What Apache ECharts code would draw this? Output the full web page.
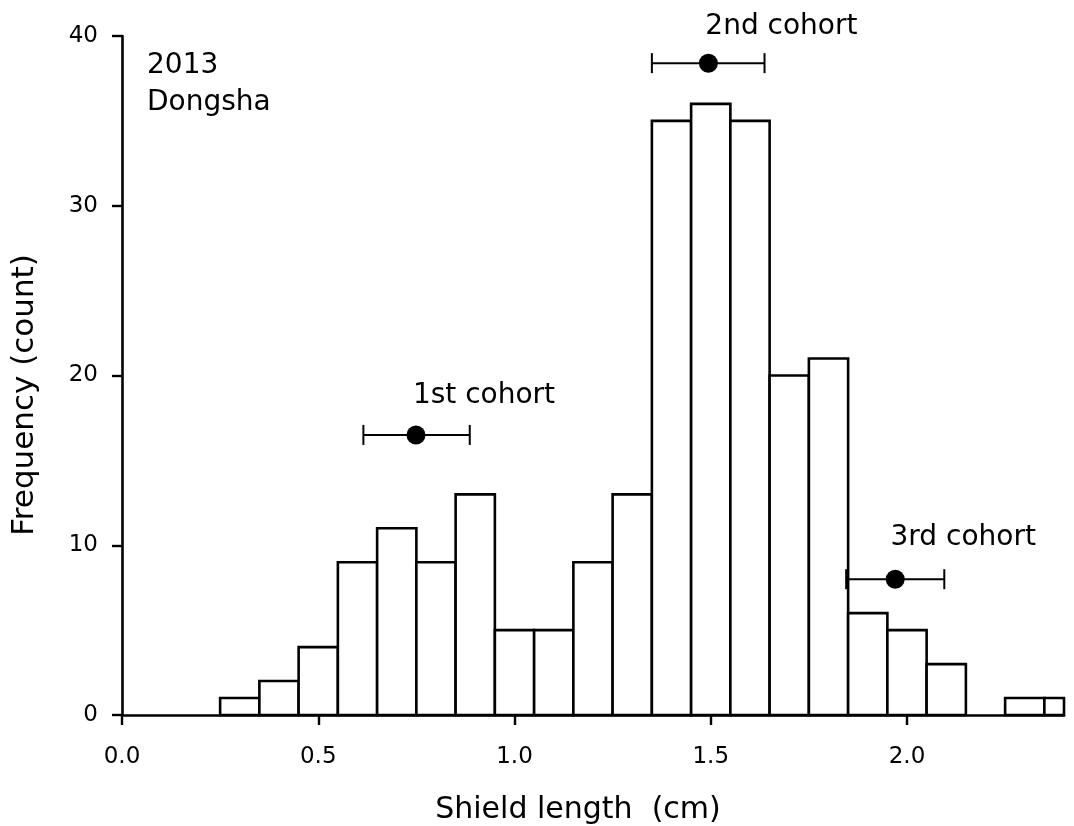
<!DOCTYPE html>
<html>
<head>
<meta charset="utf-8">
<script src="https://cdn.jsdelivr.net/npm/echarts@6/dist/echarts.min.js"></script>
<style>
html,body{margin:0;padding:0;background:#fff;}
#chart{width:1074px;height:826px;}
</style>
</head>
<body>
<div id="chart"></div>
<script>
// Histogram bins (centres, width 0.1 cm) and counts
const binCenters = [0.3, 0.4, 0.5, 0.6, 0.7, 0.8, 0.9, 1.0, 1.1, 1.2, 1.3, 1.4, 1.5, 1.6, 1.7, 1.8, 1.9, 2.0, 2.1, 2.2, 2.3, 2.4];
const counts     = [1,   2,   4,   9,   11,  9,   13,  5,   5,   9,   13,  35,  36,  35,  20,  21,  6,   5,   3,   0,   1,   1];
const binWidth = 0.1;

// Cohort means (x), plotted height (y), and error-bar limits
const cohortNames = ['1st cohort', '2nd cohort', '3rd cohort'];
const cohortMean  = [0.749, 1.494, 1.970];
const cohortY     = [16.5, 38.4, 8.0];
const cohortLow   = [0.615, 1.350, 1.845];
const cohortHigh  = [0.886, 1.637, 2.095];

const xTicks = [0, 0.5, 1.0, 1.5, 2.0];
const yTicks = [0, 10, 20, 30, 40];

const FONT = 'DejaVu Sans';
const labelOffsets = [[68, -39], [73, -36], [68, -41]];

const chart = echarts.init(document.getElementById('chart'), null, {renderer: 'canvas'});

const barData = binCenters.map((c, i) => [c, counts[i]]);
const errData = cohortMean.map((m, i) => [cohortLow[i], cohortHigh[i], cohortY[i]]);
const pointData = cohortMean.map((m, i) => ({
  value: [m, cohortY[i]],
  name: cohortNames[i],
  label: {offset: labelOffsets[i]}
}));

chart.setOption({
  backgroundColor: '#ffffff',
  animation: false,
  grid: {left: 122, right: 10, top: 36, bottom: 111, containLabel: false},
  xAxis: {
    type: 'value', min: 0, max: 2.4, interval: 0.5,
    axisLine: {show: true, lineStyle: {color: '#000', width: 2.6}},
    axisTick: {show: true, length: 10, lineStyle: {color: '#000', width: 2.4}, customValues: xTicks},
    axisLabel: {color: '#000', fontFamily: FONT, fontSize: 23, margin: 31,
      customValues: xTicks, formatter: v => v.toFixed(1)},
    splitLine: {show: false}
  },
  yAxis: {
    type: 'value', min: 0, max: 40, interval: 10,
    axisLine: {show: true, lineStyle: {color: '#000', width: 2.6}},
    axisTick: {show: true, length: 10, lineStyle: {color: '#000', width: 2.4}, customValues: yTicks},
    axisLabel: {color: '#000', fontFamily: FONT, fontSize: 23, margin: 24, customValues: yTicks},
    splitLine: {show: false}
  },
  graphic: [
    {type: 'text', left: 147, top: 52, z: 100,
      style: {text: '2013', font: '28px "DejaVu Sans"', fill: '#000'}},
    {type: 'text', left: 147, top: 89, z: 100,
      style: {text: 'Dongsha', font: '28px "DejaVu Sans"', fill: '#000'}},
    {type: 'text', x: 25, y: 395, rotation: Math.PI / 2, z: 100,
      style: {text: 'Frequency (count)', font: '31px "DejaVu Sans"', fill: '#000', align: 'center', verticalAlign: 'middle'}},
    {type: 'text', x: 578, y: 810, z: 100,
      style: {text: 'Shield length  (cm)', font: '30px "DejaVu Sans"', fill: '#000', align: 'center', verticalAlign: 'middle'}}
  ],
  series: [
    {
      type: 'custom',
      name: 'bars',
      data: barData,
      z: 3,
      renderItem: function (params, api) {
        const c = api.value(0), v = api.value(1);
        if (v <= 0) return null;
        const cs = params.coordSys;
        const p0 = api.coord([c - binWidth / 2, v]);
        const p1 = api.coord([c + binWidth / 2, 0]);
        const xr = Math.min(p1[0], cs.x + cs.width);
        return {
          type: 'rect',
          shape: {x: p0[0], y: p0[1], width: xr - p0[0], height: p1[1] - p0[1]},
          style: {fill: '#fff', stroke: '#000', lineWidth: 2.6}
        };
      }
    },
    {
      type: 'custom',
      name: 'errorbars',
      data: errData,
      z: 4,
      renderItem: function (params, api) {
        const lo = api.coord([api.value(0), api.value(2)]);
        const hi = api.coord([api.value(1), api.value(2)]);
        const h = 10;
        const st = {stroke: '#000', lineWidth: 2};
        return {
          type: 'group',
          children: [
            {type: 'line', shape: {x1: lo[0], y1: lo[1], x2: hi[0], y2: hi[1]}, style: st},
            {type: 'line', shape: {x1: lo[0], y1: lo[1] - h, x2: lo[0], y2: lo[1] + h}, style: st},
            {type: 'line', shape: {x1: hi[0], y1: hi[1] - h, x2: hi[0], y2: hi[1] + h}, style: st}
          ]
        };
      }
    },
    {
      type: 'scatter',
      name: 'cohorts',
      data: pointData,
      z: 5,
      symbol: 'circle',
      symbolSize: 19,
      itemStyle: {color: '#000', opacity: 1},
      label: {
        show: true, position: 'inside', formatter: p => p.name,
        color: '#000', fontFamily: FONT, fontSize: 28, align: 'center', verticalAlign: 'middle'
      }
    }
  ]
});
</script>
</body>
</html>
